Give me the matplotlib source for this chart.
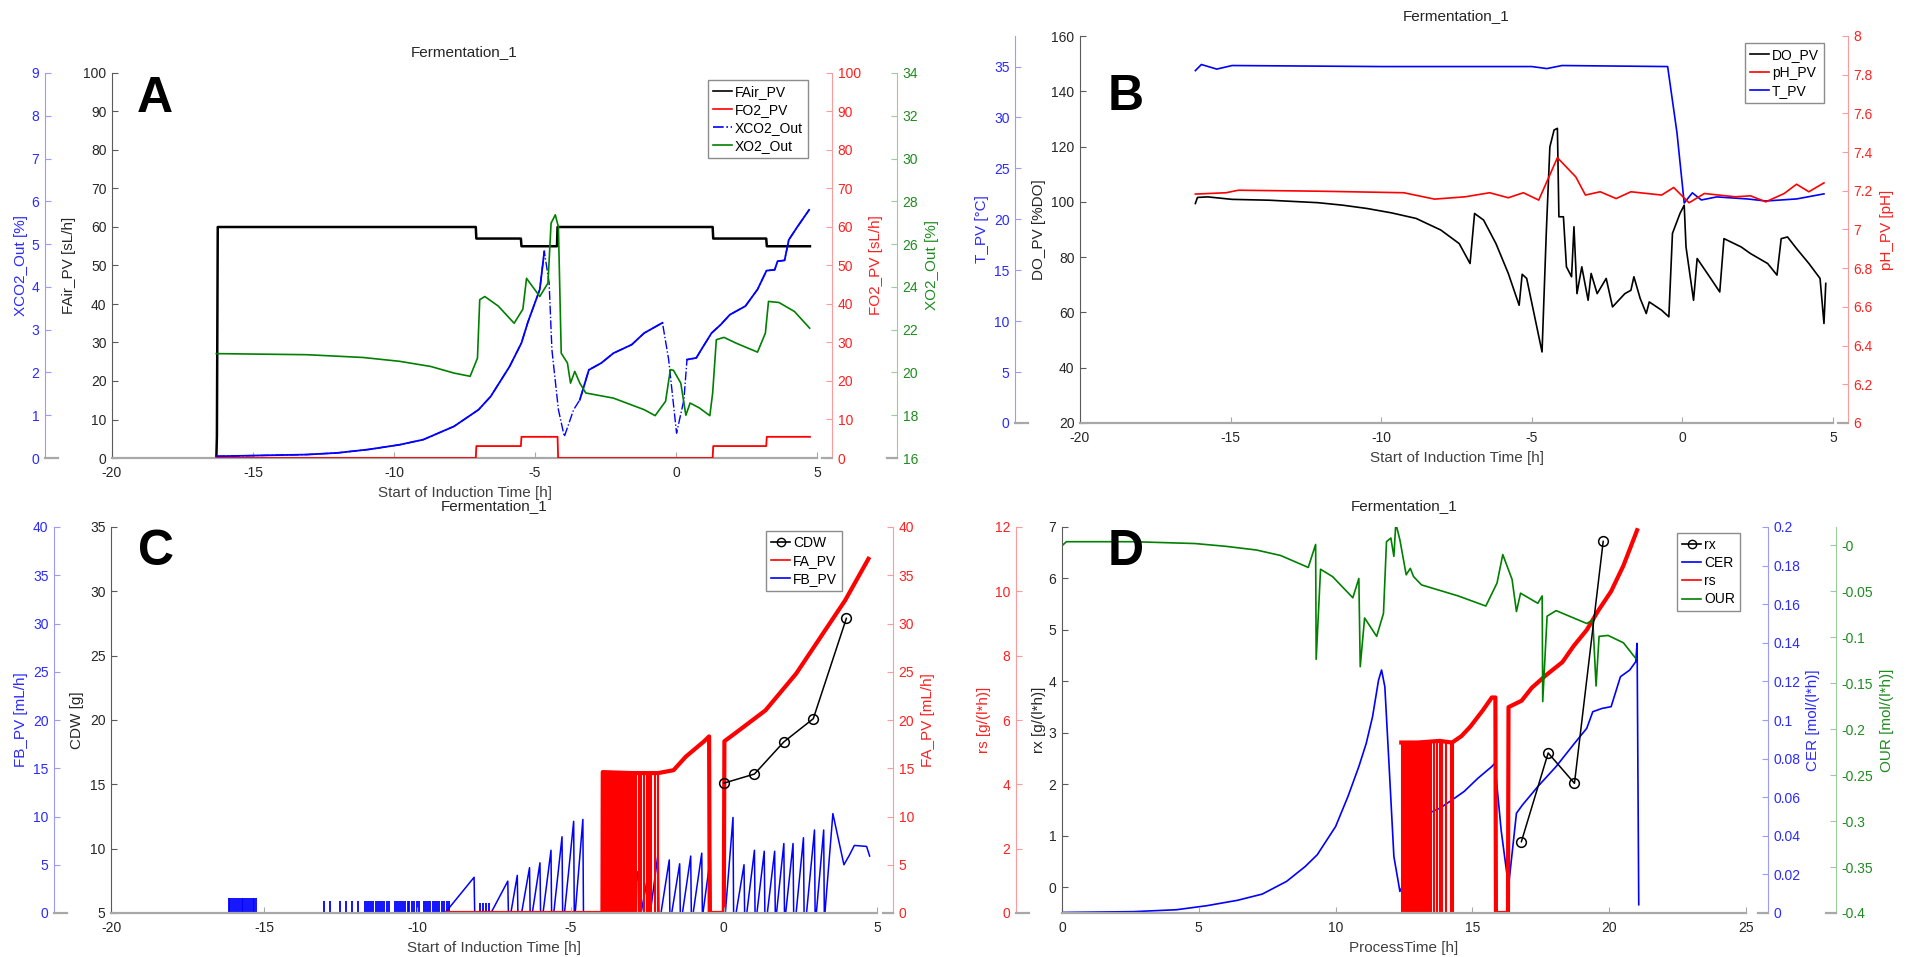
import numpy as np
import matplotlib
matplotlib.use('Agg')
import matplotlib.pyplot as plt
from matplotlib.lines import Line2D

plt.rcParams['font.family'] = ['Liberation Sans', 'DejaVu Sans']
plt.rcParams['axes.unicode_minus'] = False

# ---------------- data ----------------
# A: gas flows and off-gas
a_fair_t = [-16.3, -16.28, -16.25, -7.1, -7.08, -5.5, -5.48, -4.22, -4.2, 1.3, 1.32, 3.2, 3.22, 4.75]
a_fair_v = [0, 5.5, 60, 60, 57, 57, 55, 55, 60, 60, 57, 57, 55, 55]
a_fo2_t = [-16.3, -7.1, -7.08, -5.5, -5.48, -4.2, -4.18, 1.3, 1.32, 3.2, 3.22, 4.75]
a_fo2_v = [0, 0, 3.1, 3.1, 5.5, 5.5, 0, 0, 3.1, 3.1, 5.5, 5.5]
a_xco2_t = [-16.3, -13.1, -12.0, -10.9, -9.8, -8.96, -7.87, -7.0, -6.57, -5.9, -5.48, -5.26, -4.83,
            -4.67, -4.5, -4.4, -4.17, -3.96, -3.63, -3.41, -3.09, -2.65, -2.22, -1.57, -1.13, -0.59,
            -0.48, -0.26, 0.02, 0.28, 0.39, 0.72, 0.93, 1.26, 1.59, 1.91, 2.46, 2.89, 3.21, 3.5, 3.6,
            3.85, 4.0, 4.3, 4.72]
a_xco2_v = [0.04, 0.08, 0.12, 0.2, 0.31, 0.43, 0.74, 1.13, 1.44, 2.14, 2.69, 3.16, 3.94,
            4.83, 4.1, 2.53, 1.13, 0.5, 1.13, 1.36, 2.06, 2.22, 2.45, 2.65, 2.92, 3.12,
            3.16, 2.3, 0.58, 1.36, 2.3, 2.34, 2.57, 2.92, 3.12, 3.35, 3.55, 3.94, 4.38, 4.4, 4.6,
            4.62, 5.1, 5.4, 5.8]
a_xo2_t = [-16.3, -13.1, -11.1, -9.8, -8.7, -7.87, -7.3, -7.04, -6.96, -6.78, -6.3, -5.74, -5.43,
           -5.3, -4.83, -4.54, -4.43, -4.28, -4.17, -4.07, -3.85, -3.74, -3.59, -3.41, -3.2, -2.22,
           -1.13, -0.74, -0.37, -0.2, -0.09, 0.17, 0.35, 0.5, 0.83, 1.2, 1.3, 1.43, 1.7, 2.13, 2.89,
           3.17, 3.28, 3.65, 4.2, 4.74]
a_xo2_v = [20.88, 20.83, 20.7, 20.52, 20.28, 19.97, 19.82, 20.67, 23.4, 23.55, 23.1, 22.3, 22.96,
           24.4, 23.55, 24.18, 26.98, 27.37, 26.8, 20.9, 20.44, 19.5, 20.05, 19.5, 19.04, 18.8,
           18.26, 17.98, 18.65, 20.13, 20.1, 19.5, 18.0, 18.57, 18.34, 17.98, 19.04, 21.53, 21.64,
           21.37, 20.95, 21.84, 23.32, 23.27, 22.85, 22.07]

# B: DO, pH, temperature
b_do_t = [-16.17, -16.1, -15.76, -14.95, -13.73, -12.1, -11.28, -10.47, -9.65, -8.84, -8.02, -7.41,
          -7.05, -6.9, -6.6, -6.19, -5.78, -5.42, -5.32, -5.17, -4.66, -4.52, -4.4, -4.26, -4.15,
          -4.1, -3.95, -3.85, -3.68, -3.6, -3.5, -3.34, -3.13, -3.03, -2.83, -2.53, -2.32, -1.91,
          -1.71, -1.61, -1.4, -1.2, -1.1, -0.69, -0.45, -0.33, -0.08, 0.06, 0.12, 0.37, 0.49, 0.94,
          1.24, 1.38, 1.95, 2.26, 2.83, 3.14, 3.28, 3.49, 3.79, 4.2, 4.57, 4.7, 4.76]
b_do_v = [99.4, 101.6, 101.8, 100.9, 100.6, 99.7, 98.8, 97.6, 96.0, 94.0, 89.8, 84.9,
          77.7, 95.8, 93.4, 84.9, 74.1, 62.6, 73.8, 72.3, 45.7, 88.6, 119.9, 126.0, 126.6,
          94.6, 94.6, 76.5, 72.9, 91.0, 66.8, 76.5, 64.4, 74.1, 66.8, 72.3, 62.0, 66.8,
          68.0, 72.9, 65.0, 59.6, 63.8, 60.8, 58.4, 88.6, 95.8, 98.8, 83.7, 64.4, 79.5, 72.3,
          67.4, 86.7, 83.7, 81.3, 77.7, 73.5, 86.7, 87.3, 83.1, 77.7, 72.3, 56.0, 70.5]
b_ph_t = [-16.17, -15.15, -14.74, -12.1, -9.25, -8.23, -7.21, -6.4, -5.78, -5.28, -4.77, -4.15,
          -3.54, -3.22, -2.73, -2.2, -1.71, -0.69, -0.29, 0.22, 0.73, 1.75, 2.26, 2.77, 3.38,
          3.79, 4.2, 4.7]
b_ph_v = [7.183, 7.19, 7.203, 7.198, 7.19, 7.157, 7.169, 7.19, 7.164, 7.19, 7.152, 7.371,
          7.272, 7.178, 7.195, 7.16, 7.195, 7.178, 7.217, 7.138, 7.186, 7.169, 7.174, 7.143,
          7.186, 7.234, 7.195, 7.241]
b_temp_t = [-16.17, -15.97, -15.46, -14.95, -10.0, -5.0, -4.5, -4.0, -0.49, -0.18, 0.06, 0.33,
            0.63, 1.14, 2.16, 2.77, 3.79, 4.7]
b_temp_v = [34.6, 35.2, 34.75, 35.1, 35.0, 35.0, 34.8, 35.1, 35.0, 28.5, 21.6, 22.6,
            21.9, 22.2, 22.0, 21.8, 22.0, 22.5]

# C: biomass and feeds
c_cdw_t = [0, 1.0, 1.96, 2.92, 4.0]
c_cdw_v = [15.09, 15.8, 18.3, 20.1, 27.9]
c_fa_t = [-9.0, -3.96, -3.95, -3.0, -2.14, -1.64, -1.24, -0.64, -0.48, -0.46, 0.0, 0.02, 0.36,
          1.36, 2.36, 3.16, 3.96, 4.72]
c_fa_v = [0, 0, 14.6, 14.5, 14.5, 14.8, 16.2, 17.8, 18.3, 0, 0, 17.8, 18.6,
          21.0, 24.8, 28.6, 32.4, 36.7]
c_fa_drop_t = [-3.93, -3.88, -3.84, -3.8, -3.75, -3.7, -3.66, -3.6, -3.55, -3.5, -3.46, -3.4,
               -3.35, -3.3, -3.24, -3.18, -3.12, -3.06, -3.0, -2.94, -2.86, -2.78, -2.7, -2.62,
               -2.5, -2.44, -2.36, -2.26, -2.14]
c_fa_drop_top = 14.5
c_fb_spike_t = [-16.15, -16.1, -16.04, -15.98, -15.92, -15.86, -15.8, -15.74, -15.68, -15.62,
                -15.56, -15.5, -15.44, -15.38, -15.32, -15.26,
                -13.04, -12.84, -12.54, -12.34, -12.14, -11.94,
                -11.7, -11.64, -11.58, -11.5, -11.44, -11.36, -11.3, -11.22, -11.16, -11.08, -11.0, -10.92,
                -10.74, -10.68, -10.6, -10.54, -10.46, -10.4, -10.32, -10.26, -10.18, -10.1, -10.02, -9.94,
                -9.78, -9.72, -9.64, -9.58, -9.5, -9.42, -9.36, -9.28, -9.2, -9.12, -9.04, -8.96,
                -7.95, -7.85, -7.75, -7.65]
c_fb_spike_h = [1.55] * 16 + [1.2] * 42 + [1.0] * 4
c_fb_rise = [-9.1, -7.6, -6.95, -6.6, -6.25, -5.9, -5.55, -5.2, -4.85, -3.35, -3.05, -2.7, -2.4,
             -2.05, -1.7, -1.35, -1.0, -0.68, 0.05, 0.4, 0.75, 1.08, 1.42, 1.72, 2.02, 2.36, 2.7, 3.02]
c_fb_peak_t = [-8.15, -7.05, -6.74, -6.34, -6.0, -5.64, -5.28, -4.9, -4.6, -3.14, -2.8, -2.44, -2.14,
               -1.78, -1.44, -1.08, -0.72, -0.44, 0.3, 0.66, 1.0, 1.32, 1.66, 1.96, 2.26, 2.6, 2.96, 3.26]
c_fb_peak_v = [3.7, 3.3, 3.9, 4.7, 5.2, 6.5, 7.9, 9.5, 9.7, 4.5, 4.3, 4.5, 6.3,
               5.5, 5.1, 5.9, 6.2, 5.7, 9.9, 5.0, 6.5, 6.4, 6.4, 7.2, 7.2, 7.8, 8.6, 8.6]
c_fb_tail_t = [3.3, 3.56, 3.75, 3.92, 4.1, 4.26, 4.66, 4.76]
c_fb_tail_v = [0, 10.3, 7.5, 5.0, 6.0, 7.0, 6.9, 5.9]

# D: rates over process time
d_rx_t = [16.79, 17.77, 18.73, 19.78]
d_rx_v = [0.886, 2.61, 2.02, 6.72]
d_cer_t = [0.04, 2.62, 4.19, 5.3, 6.42, 7.32, 8.21, 8.89, 9.33, 10.0, 10.45, 10.85, 11.12, 11.35,
           11.57, 11.68, 11.8, 11.97, 12.13, 12.35, 12.51, 12.74, 13.14, 13.81, 14.26, 14.7, 15.2,
           15.71, 15.82, 16.05, 16.32, 16.61, 16.83, 17.39, 18.06, 18.73, 19.18, 19.4, 19.74,
           20.07, 20.41, 20.75, 20.97, 21.02, 21.08]
d_cer_v = [0.0003, 0.0007, 0.0017, 0.0038, 0.0066, 0.0098, 0.0164, 0.0241, 0.0302, 0.0448, 0.0603,
           0.0759, 0.0879, 0.1017, 0.1207, 0.1259, 0.1172, 0.0724, 0.0293, 0.0112, 0.0155, 0.0319,
           0.05, 0.0543, 0.0586, 0.063, 0.0698, 0.0759, 0.0776, 0.043, 0.0138, 0.0517, 0.056,
           0.0655, 0.0759, 0.0879, 0.0957, 0.1043, 0.106, 0.1069, 0.1224, 0.1259, 0.1302, 0.1397,
           0.0043]
d_rs_t = [12.4, 13.0, 13.8, 14.26, 14.6, 14.93, 15.38, 15.71, 15.84, 15.86, 16.3, 16.32, 16.8,
          17.17, 17.7, 18.29, 18.7, 19.18, 19.6, 20.07, 20.52, 21.02]
d_rs_v = [5.3, 5.3, 5.35, 5.3, 5.5, 5.8, 6.3, 6.7, 6.7, 0, 0, 6.4, 6.6,
          7.0, 7.4, 7.8, 8.3, 8.8, 9.4, 10.0, 10.8, 11.9]
d_rs_drop_t = [12.42, 12.48, 12.55, 12.6, 12.66, 12.72, 12.78, 12.85, 12.9, 12.98, 13.05, 13.12,
               13.2, 13.28, 13.35, 13.42, 13.5, 13.6, 13.7, 13.8, 13.9, 14.05, 14.2, 14.28]
d_rs_drop_top = 5.3
d_our_t = [0.04, 0.16, 2.62, 4.86, 5.98, 7.1, 7.99, 9.0, 9.27, 9.29, 9.45, 9.89, 10.63, 10.85,
           10.9, 11.06, 11.5, 11.75, 11.86, 12.02, 12.13, 12.2, 12.35, 12.58, 12.73, 12.85, 13.14,
           14.48, 15.49, 15.9, 16.11, 16.45, 16.61, 16.76, 17.39, 17.55, 17.57, 17.73, 18.06,
           19.18, 19.4, 19.52, 19.63, 19.96, 20.52, 20.97]
d_our_v = [0.0007, 0.004, 0.004, 0.002, -0.001, -0.005, -0.011, -0.024, 0.001, -0.124, -0.026,
           -0.034, -0.057, -0.036, -0.132, -0.079, -0.099, -0.074, 0.004, 0.008, -0.012, 0.024,
           0.006, -0.032, -0.025, -0.034, -0.043, -0.055, -0.066, -0.041, -0.01, -0.037, -0.072,
           -0.052, -0.063, -0.055, -0.17, -0.077, -0.071, -0.085, -0.081, -0.153, -0.099, -0.098,
           -0.106, -0.123]

# ---------------- layout helpers ----------------
W, H = 1910, 957
GREY = '#a8a8a8'
BLUE, RED, GREEN, BLACK = '#0000ff', '#ff0000', '#008000', '#000000'
fig = plt.figure(figsize=(W / 100, H / 100), dpi=100)


def lbl(vals):
    return [f'{round(v, 3):g}' for v in vals]


def panel(x0, x1, y0, y1, xlim, xticks, ylim, yticks, ylabel, ylab_x, xlabel, letter, lxy, title_dy=21):
    ax = fig.add_axes([x0 / W, 1 - y1 / H, (x1 - x0) / W, (y1 - y0) / H])
    ax.patch.set_alpha(0)
    ax.set_xlim(xlim)
    ax.set_xticks(xticks)
    ax.set_xticklabels(lbl(xticks))
    ax.set_ylim(ylim)
    ax.set_yticks(yticks)
    ax.set_yticklabels(lbl(yticks))
    ax.spines[['top', 'right']].set_visible(False)
    ax.spines['left'].set_color('#5a5a5a')
    ax.spines['bottom'].set_color(GREY)
    ax.spines['bottom'].set_linewidth(1.6)
    ax.tick_params(direction='in', length=4, labelsize=10, labelcolor='#262626', color='#5a5a5a', pad=4)
    ax.tick_params(axis='x', pad=5.5, color=GREY)
    ax.set_ylabel(ylabel, fontsize=11, color='#262626')
    ax.yaxis.set_label_coords((ylab_x - x0) / (x1 - x0), 0.5)
    ax.yaxis.label.set_va('center')
    ax.set_xlabel(xlabel, fontsize=11, color='#404040')
    ax.xaxis.set_label_coords(0.5, -35 / (y1 - y0))
    ax.xaxis.label.set_va('center')
    ax.text(0.5, 1 + title_dy / (y1 - y0), 'Fermentation_1', transform=ax.transAxes,
            ha='center', va='center', fontsize=11, color='#262626')
    fig.text(lxy[0] / W, 1 - lxy[1] / H, letter, fontsize=36, fontweight='bold', va='baseline')
    ax.box_px = (x0, x1, y1)
    return ax


def scale(ax, side, spine_x, ylim, yticks, line_c, text_c, label, lab_x):
    x0, x1, y1 = ax.box_px
    t = ax.twinx()
    t.set_ylim(ylim)
    t.set_yticks(yticks)
    t.set_yticklabels(lbl(yticks))
    for s in t.spines.values():
        s.set_visible(False)
    sp = t.spines[side]
    sp.set_visible(True)
    sp.set_color(line_c)
    sp.set_position(('axes', (spine_x - x0) / (x1 - x0)))
    if side == 'left':
        t.yaxis.tick_left()
        t.yaxis.set_label_position('left')
        stub = (spine_x, spine_x + 13)
    else:
        t.yaxis.tick_right()
        t.yaxis.set_label_position('right')
        stub = (spine_x - 10, spine_x)
    t.tick_params(axis='y', direction='in', length=4, color=line_c, labelcolor=text_c,
                  labelsize=10, pad=4)
    t.set_ylabel(label, fontsize=11, color=text_c)
    t.yaxis.set_label_coords((lab_x - x0) / (x1 - x0), 0.5)
    t.yaxis.label.set_va('center')
    fig.add_artist(Line2D([stub[0] / W, stub[1] / W], [1 - y1 / H] * 2,
                          transform=fig.transFigure, color=GREY, lw=1.6))
    return t


def legend(entries, x_right, y_top):
    handles = [Line2D([], [], color=c, ls=ls, marker=m, mfc='none', ms=6, lw=1.2)
               for _, c, ls, m in entries]
    fig.legend(handles, [e[0] for e in entries], loc='upper right',
               bbox_to_anchor=(x_right / W, 1 - y_top / H), borderaxespad=0,
               fancybox=False, edgecolor='#8c8c8c', framealpha=1, fontsize=10,
               handlelength=1.4, handletextpad=0.2, borderpad=0.35, labelspacing=0.3)


xt = [-20, -15, -10, -5, 0, 5]
xlab = 'Start of Induction Time [h]'

# ---------------- panel A ----------------
axA = panel(112, 817, 73, 458, (-20, 5), xt, (0, 100), list(range(0, 101, 10)),
            'FAir_PV [sL/h]', 69, xlab, 'A', (137, 112))
axA.plot(a_fair_t, a_fair_v, color=BLACK, lw=1.8)
tA_co2 = scale(axA, 'left', 45, (0, 9), list(range(10)), '#9a9aff', '#2a2aff', 'XCO2_Out [%]', 21)
tA_o2f = scale(axA, 'right', 832, (0, 100), list(range(0, 101, 10)), '#ff9a9a', '#ff2020',
               'FO2_PV [sL/h]', 876)
tA_o2x = scale(axA, 'right', 897, (16, 34), list(range(16, 35, 2)), '#9ccc9c', '#1e8c1e',
               'XO2_Out [%]', 932)
tA_o2f.plot(a_fo2_t, a_fo2_v, color=RED, lw=1.3)
co2_t = np.array(a_xco2_t)
co2_v = np.array(a_xco2_v)
dip = ((co2_t > -4.6) & (co2_t < -3.5)) | ((co2_t > -0.4) & (co2_t < 0.35))
tA_co2.plot(co2_t, co2_v, color=BLUE, lw=1.0, ls='-.')
tA_co2.plot(co2_t, np.where(dip, np.nan, co2_v), color=BLUE, lw=1.3)
tA_o2x.plot(a_xo2_t, a_xo2_v, color=GREEN, lw=1.2)
legend([('FAir_PV', BLACK, '-', None), ('FO2_PV', RED, '-', None),
        ('XCO2_Out', BLUE, '-.', None), ('XO2_Out', GREEN, '-', None)], 808, 80)

# ---------------- panel B ----------------
axB = panel(1080, 1833, 36, 423, (-20, 5), xt, (20, 160), list(range(20, 161, 20)),
            'DO_PV [%DO]', 1039, xlab, 'B', (1108, 110), title_dy=20)
axB.plot(b_do_t, b_do_v, color=BLACK, lw=1.2)
tB_t = scale(axB, 'left', 1015, (0, 38), list(range(0, 36, 5)), '#9a9aff', '#2a2aff', 'T_PV [°C]', 982)
tB_ph = scale(axB, 'right', 1848, (6, 8), list(np.arange(6, 8.01, 0.2)), '#ff9a9a', '#ff2020',
              'pH_PV [pH]', 1887)
tB_ph.plot(b_ph_t, b_ph_v, color=RED, lw=1.2)
tB_t.plot(b_temp_t, b_temp_v, color=BLUE, lw=1.2)
legend([('DO_PV', BLACK, '-', None), ('pH_PV', RED, '-', None), ('T_PV', BLUE, '-', None)], 1824, 43)

# ---------------- panel C ----------------
axC = panel(111, 877, 527, 913, (-20, 5), xt, (5, 35), list(range(5, 36, 5)),
            'CDW [g]', 77, xlab, 'C', (138, 565))
tC_fb = scale(axC, 'left', 54, (0, 40), list(range(0, 41, 5)), '#9a9aff', '#2a2aff', 'FB_PV [mL/h]', 21)
tC_fa = scale(axC, 'right', 893, (0, 40), list(range(0, 41, 5)), '#ff9a9a', '#ff2020',
              'FA_PV [mL/h]', 928)
tC_fa.plot(c_fa_t, c_fa_v, color=RED, lw=3.0)
tC_fa.vlines(c_fa_drop_t, 0, c_fa_drop_top, color=RED, lw=1.5)
fb_t, fb_v = [-16.3], [0.0]
for s, p, h in zip(c_fb_rise, c_fb_peak_t, c_fb_peak_v):
    fb_t += [s, p, p + 0.02]
    fb_v += [0, h, 0]
fb_t += c_fb_tail_t
fb_v += c_fb_tail_v
tC_fb.plot(fb_t, fb_v, color=BLUE, lw=1.1)
tC_fb.vlines(c_fb_spike_t, 0, c_fb_spike_h, color=BLUE, lw=1.3)
axC.set_zorder(5)
axC.plot(c_cdw_t, c_cdw_v, color=BLACK, lw=1.1, marker='o', mfc='none', ms=7, mew=1.1)
legend([('CDW', BLACK, '-', 'o'), ('FA_PV', RED, '-', None), ('FB_PV', BLUE, '-', None)], 842, 531)

# ---------------- panel D ----------------
axD = panel(1062, 1746, 527, 913, (0, 25), [0, 5, 10, 15, 20, 25], (-0.5, 7), list(range(8)),
            'rx [g/(l*h)]', 1039, 'ProcessTime [h]', 'D', (1108, 565))
tD_cer = scale(axD, 'right', 1768, (0, 0.2), list(np.arange(0, 0.201, 0.02)), '#9a9aff', '#2a2aff',
               'CER [mol/(l*h)]', 1813)
tD_rs = scale(axD, 'left', 1016, (0, 12), list(range(0, 13, 2)), '#ff9a9a', '#ff2020',
              'rs [g/(l*h)]', 984)
tD_our = scale(axD, 'right', 1836, (-0.4, 0.02), list(np.arange(-0.4, 0.001, 0.05)), '#9ccc9c',
               '#1e8c1e', 'OUR [mol/(l*h)]', 1887)
tD_cer.plot(d_cer_t, d_cer_v, color=BLUE, lw=1.2)
tD_rs.plot(d_rs_t, d_rs_v, color=RED, lw=3.0)
tD_rs.vlines(d_rs_drop_t, 0, d_rs_drop_top, color=RED, lw=1.5)
tD_our.plot(d_our_t, d_our_v, color=GREEN, lw=1.2)
axD.set_zorder(5)
axD.plot(d_rx_t, d_rx_v, color=BLACK, lw=1.1, marker='o', mfc='none', ms=7, mew=1.1)
legend([('rx', BLACK, '-', 'o'), ('CER', BLUE, '-', None), ('rs', RED, '-', None),
        ('OUR', GREEN, '-', None)], 1740, 533)

fig.savefig('out.png', dpi=100)
